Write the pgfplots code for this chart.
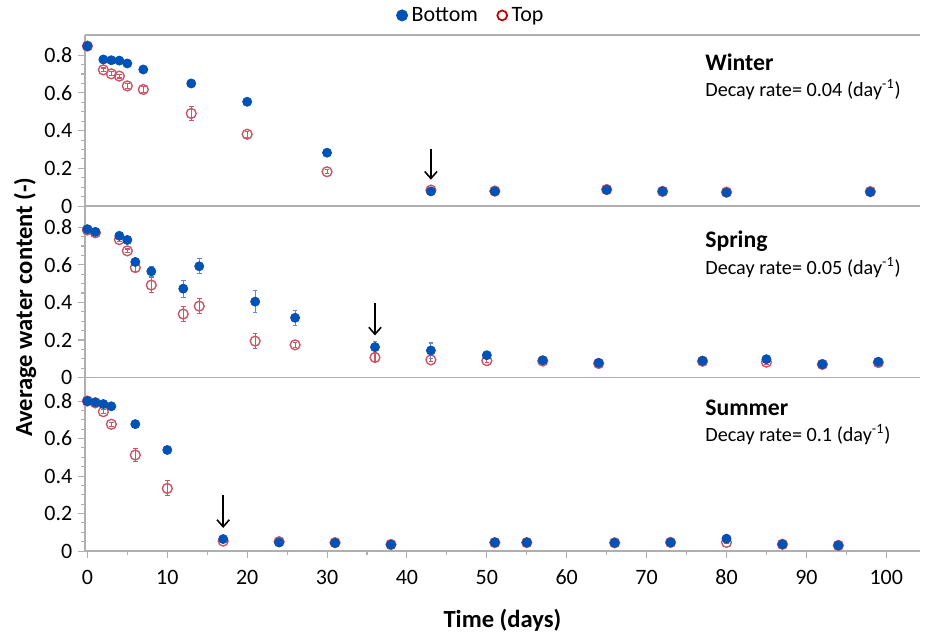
\documentclass[border=0pt]{standalone}
\usepackage{fontspec}
\setmainfont{Carlito}
\usepackage{pgfplots}
\pgfplotsset{compat=1.18}
\usetikzlibrary{arrows.meta}

\definecolor{bblue}{RGB}{0,82,180}
\definecolor{bbar}{RGB}{95,140,215}
\definecolor{tred}{RGB}{205,85,100}
\definecolor{legred}{RGB}{192,0,0}
\definecolor{axgray}{RGB}{175,175,175}

% x  y  e   (days, average water content, error)
\pgfplotstableread{
x y e
0 0.848 0
2 0.777 0.004
3 0.773 0.004
4 0.771 0.004
5 0.756 0.004
7 0.724 0.004
13 0.650 0.004
20 0.553 0.004
30 0.283 0.004
43 0.078 0.003
51 0.078 0.003
65 0.086 0.003
72 0.078 0.003
80 0.072 0.003
98 0.075 0.003
}\winterbot
\pgfplotstableread{
x y e
0 0.848 0
2 0.722 0.01
3 0.701 0.01
4 0.689 0.01
5 0.637 0.015
7 0.618 0.015
13 0.491 0.035
20 0.381 0.015
30 0.182 0.01
43 0.085 0.005
51 0.080 0.005
65 0.088 0.005
72 0.078 0.005
80 0.074 0.005
98 0.077 0.005
}\wintertop
\pgfplotstableread{
x y e
0 0.789 0.005
1 0.775 0.005
4 0.754 0.01
5 0.732 0.01
6 0.615 0.02
8 0.565 0.025
12 0.473 0.045
14 0.592 0.04
21 0.404 0.06
26 0.318 0.04
36 0.162 0.03
43 0.144 0.04
50 0.119 0.01
57 0.092 0.01
64 0.078 0.005
77 0.089 0.005
85 0.098 0.01
92 0.071 0.005
99 0.084 0.005
}\springbot
\pgfplotstableread{
x y e
0 0.785 0.005
1 0.770 0.005
4 0.734 0.01
5 0.674 0.01
6 0.585 0.02
8 0.492 0.04
12 0.338 0.04
14 0.380 0.04
21 0.194 0.04
26 0.174 0.015
36 0.107 0.02
43 0.094 0.01
50 0.090 0.01
57 0.088 0.005
64 0.075 0.005
77 0.087 0.005
85 0.082 0.01
92 0.070 0.005
99 0.080 0.005
}\springtop
\pgfplotstableread{
x y e
0 0.800 0.004
1 0.793 0.004
2 0.784 0.004
3 0.772 0.004
6 0.677 0.004
10 0.539 0.004
17 0.064 0.004
24 0.046 0.003
31 0.043 0.003
38 0.034 0.003
51 0.046 0.003
55 0.046 0.003
66 0.044 0.003
73 0.046 0.003
80 0.066 0.005
87 0.036 0.003
94 0.030 0.003
}\summerbot
\pgfplotstableread{
x y e
0 0.800 0.005
1 0.790 0.005
2 0.743 0.01
3 0.676 0.01
6 0.512 0.035
10 0.334 0.04
17 0.053 0.005
24 0.050 0.005
31 0.045 0.005
38 0.035 0.005
51 0.045 0.005
55 0.045 0.005
66 0.044 0.005
73 0.046 0.005
80 0.046 0.005
87 0.036 0.005
94 0.030 0.005
}\summertop

\pgfplotsset{
  panel/.style={
    scale only axis, width=16.7cm,
    xmin=-0.3, xmax=104.2, ymin=0,
    axis lines*=left,
    axis line style={draw=axgray, line width=0.9pt, -},
    ytick={0,0.2,0.4,0.6,0.8}, yticklabels={0,0.2,0.4,0.6,0.8},
    minor y tick num=3,
    tick align=outside,
    major tick length=0.13cm, minor tick length=0.07cm,
    tick style={draw=axgray, line width=0.6pt},
    yticklabel style={font=\fontsize{12.5}{14}\selectfont},
    xtick=\empty,
    clip=false,
    /pgf/number format/assume math mode=true,
  },
  bot/.style={only marks, mark=*, mark size=2.6pt,
    mark options={draw=bblue, fill=bblue},
    error bars/y dir=both, error bars/y explicit,
    error bars/error bar style={draw=bbar, line width=0.6pt},
    error bars/error mark options={rotate=90, mark size=1.3pt, draw=bbar, line width=0.6pt}},
  top/.style={only marks, mark=o, mark size=2.8pt,
    mark options={draw=tred, line width=0.8pt},
    error bars/y dir=both, error bars/y explicit,
    error bars/error bar style={draw=tred, line width=0.6pt},
    error bars/error mark options={rotate=90, mark size=1.3pt, draw=tred, line width=0.6pt}},
}
\tikzset{note/.style={-{Straight Barb[length=4pt,width=7pt]}, line width=0.9pt, black}}

\begin{document}
\begin{tikzpicture}
\begin{axis}[panel, at={(1.7cm,-4.02cm)}, anchor=south west, height=3.42cm, ymax=0.906,
  legend style={at={(0.463,1)}, anchor=south, yshift=0.08cm, draw=none, fill=none,
    legend columns=2, font=\fontsize{12.5}{14}\selectfont,
    /tikz/every even column/.append style={column sep=0.3cm}}]
  \addlegendimage{legend image code/.code={\fill[bblue] (0cm,0cm) circle (3.2pt);}}
  \addlegendentry{Bottom}
  \addlegendimage{legend image code/.code={\draw[legred, line width=1pt] (0cm,0cm) circle (2.8pt);}}
  \addlegendentry{Top}
  \addplot[forget plot, top] table[x=x, y=y, y error=e] {\wintertop};
  \addplot[forget plot, bot] table[x=x, y=y, y error=e] {\winterbot};
  \draw[axgray, line width=0.9pt] (rel axis cs:0,1) -- (rel axis cs:1,1);
  \draw[note] (axis cs:43,0.305) -- (axis cs:43,0.14);
\end{axis}
\begin{axis}[panel, at={(1.7cm,-7.45cm)}, anchor=south west, height=3.43cm, ymax=0.912]
  \addplot[top] table[x=x, y=y, y error=e] {\springtop};
  \addplot[bot] table[x=x, y=y, y error=e] {\springbot};
  \draw[note] (axis cs:36,0.395) -- (axis cs:36,0.224);
\end{axis}
\begin{axis}[panel, at={(1.7cm,-10.92cm)}, anchor=south west, height=3.47cm, ymax=0.925,
  xtick={0,10,...,100}, minor x tick num=1,
  xticklabel style={font=\fontsize{12.5}{14}\selectfont, yshift=-0.12cm},
  xlabel={\textbf{Time (days)}},
  xlabel style={font=\fontsize{14}{16}\selectfont, yshift=-0.25cm}]
  \addplot[top] table[x=x, y=y, y error=e] {\summertop};
  \addplot[bot] table[x=x, y=y, y error=e] {\summerbot};
  \draw[note] (axis cs:17,0.299) -- (axis cs:17,0.123);
\end{axis}
\begin{scope}[x=0.02cm, y=-0.02cm]
  \path[use as bounding box] (0,0) rectangle (925,631);
  \node[rotate=90, font=\fontsize{14}{16}\selectfont\bfseries] at (25,302) {Average water content (-)};
  \node[anchor=base west, inner sep=0pt, font=\fontsize{13.5}{16}\selectfont\bfseries] at (705,65) {Winter};
  \node[anchor=base west, inner sep=0pt, font=\fontsize{11.5}{14}\selectfont] at (705,91) {Decay rate= 0.04 (day\textsuperscript{-1})};
  \node[anchor=base west, inner sep=0pt, font=\fontsize{13.5}{16}\selectfont\bfseries] at (705,242) {Spring};
  \node[anchor=base west, inner sep=0pt, font=\fontsize{11.5}{14}\selectfont] at (705,269) {Decay rate= 0.05 (day\textsuperscript{-1})};
  \node[anchor=base west, inner sep=0pt, font=\fontsize{13.5}{16}\selectfont\bfseries] at (705,410) {Summer};
  \node[anchor=base west, inner sep=0pt, font=\fontsize{11.5}{14}\selectfont] at (705,436) {Decay rate= 0.1 (day\textsuperscript{-1})};
\end{scope}
\end{tikzpicture}
\end{document}
